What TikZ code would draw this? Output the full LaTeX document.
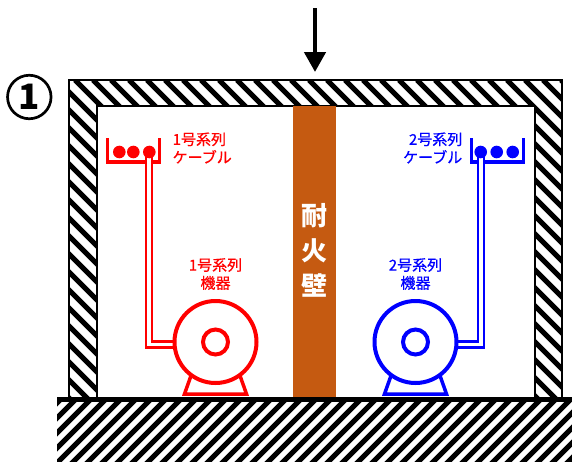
\documentclass[tikz,border=0pt]{standalone}
\usepackage{fontspec}
\newfontfamily\jp{Noto Sans CJK JP}
\newfontfamily\jpm[FakeBold=0.7]{Noto Sans CJK JP}
\usetikzlibrary{arrows.meta}
\definecolor{firebrick}{HTML}{C55A11}
\definecolor{sysred}{HTML}{FF0000}
\definecolor{sysblue}{HTML}{0000FF}

\begin{document}
\begin{tikzpicture}[x=1pt,y=-1pt,
  hatchline/.style={line width=5pt, line cap=butt},
  edge/.style={line width=1.2pt},
  lbl/.style={font=\jpm\fontsize{15}{18}\selectfont, inner sep=0pt},
  tray/.style={line width=3.2pt, line join=miter},
  cable/.style={line width=2.3pt, double=white, double distance=3.7pt, line join=miter},
  ball/.style={circle, minimum size=12.6pt, inner sep=0pt},
  motor/.style={circle, line width=4pt, fill=white, minimum size=82pt, inner sep=0pt},
  rotor/.style={circle, line width=4pt, minimum size=25pt, inner sep=0pt},
  base/.style={line width=3.5pt, line join=miter}
]
\useasboundingbox (0,0) rectangle (572,461);

% ground hatching
\begin{scope}
  \clip (57,402) rectangle (572,461);
  \foreach \k in {0,...,42}
    \draw[hatchline] ({-10+15*\k},470) -- ({70+15*\k},390);
\end{scope}

% building walls (hatched)
\begin{scope}
  \clip (69,80) rectangle (562,398);
  \foreach \k in {-19,...,28}
    \draw[hatchline] ({75+18*\k},80) -- ({405+18*\k},410);
\end{scope}
\fill[white] (97,106) rectangle (535,398);
\draw[edge] (69,398) -- (69,80) -- (562,80) -- (562,398);
\draw[edge] (97,398) -- (97,106) -- (535,106) -- (535,398);

% fire wall
\node[fill=firebrick, minimum width=43pt, minimum height=292pt, inner sep=0pt] (fw) at (314.5,252) {};
\node[text=white, font=\jp\bfseries\fontsize{26}{35}\selectfont, align=center, inner sep=0pt] (fwtext) at (314.5,250) {耐\\火\\壁};

% ground line
\draw[line width=5pt] (57,399.5) -- (572,399.5);

% load arrow
\coordinate (arrtop) at (315,8);
\coordinate (arrtip) at (315,72);
\draw[line width=4.5pt, -{Triangle[length=20pt,width=21pt]}] (arrtop) -- (arrtip);

% case number
\node[circle, draw, line width=2.7pt, minimum size=43.5pt, inner sep=0pt,
      font=\jp\bfseries\fontsize{35}{35}\selectfont] (casenum) at (29.3,97) {1};

% ---- system 1 (red) ----
\draw[tray, sysred] (107.5,138) -- (107.5,162) -- (159.5,162) -- (159.5,138);
\coordinate (r1bend) at (176,344.5);
\node[ball] (r1c) at (149.3,152) {};
\draw[cable, sysred] (r1c.center) |- (r1bend);
\node[ball, fill=sysred] (r1a) at (119.3,152) {};
\node[ball, fill=sysred] (r1b) at (133.3,152) {};
\node[ball, fill=sysred] at (r1c) {};
\node[lbl, text=sysred, anchor=west, align=left] (r1cablelbl) at (172.5,148) {1号系列\\ケーブル};

\draw[base, sysred] (192.3,372) -- (184.5,394) -- (246.5,394) -- (238.7,372);
\node[motor, draw=sysred] (r1m) at (215.5,342) {};
\node[rotor, draw=sysred] (r1r) at (215.5,342) {};
\node[lbl, text=sysred, align=center] (r1mlbl) at (215.5,274) {1号系列\\機器};

% ---- system 2 (blue) ----
\draw[tray, sysblue] (471.5,138) -- (471.5,162) -- (523.5,162) -- (523.5,138);
\coordinate (b2bend) at (456,344.5);
\node[ball] (b2a) at (480.7,152) {};
\draw[cable, sysblue] (b2a.center) |- (b2bend);
\node[ball, fill=sysblue] at (b2a) {};
\node[ball, fill=sysblue] (b2b) at (496.7,152) {};
\node[ball, fill=sysblue] (b2c) at (512.7,152) {};
\node[lbl, text=sysblue, anchor=east, align=right] (b2cablelbl) at (462.5,148) {2号系列\\ケーブル};

\draw[base, sysblue] (392.3,372) -- (384.5,394) -- (446.5,394) -- (438.7,372);
\node[motor, draw=sysblue] (b2m) at (415.5,342) {};
\node[rotor, draw=sysblue] (b2r) at (415.5,342) {};
\node[lbl, text=sysblue, align=center] (b2mlbl) at (415.5,274) {2号系列\\機器};

\end{tikzpicture}
\end{document}
